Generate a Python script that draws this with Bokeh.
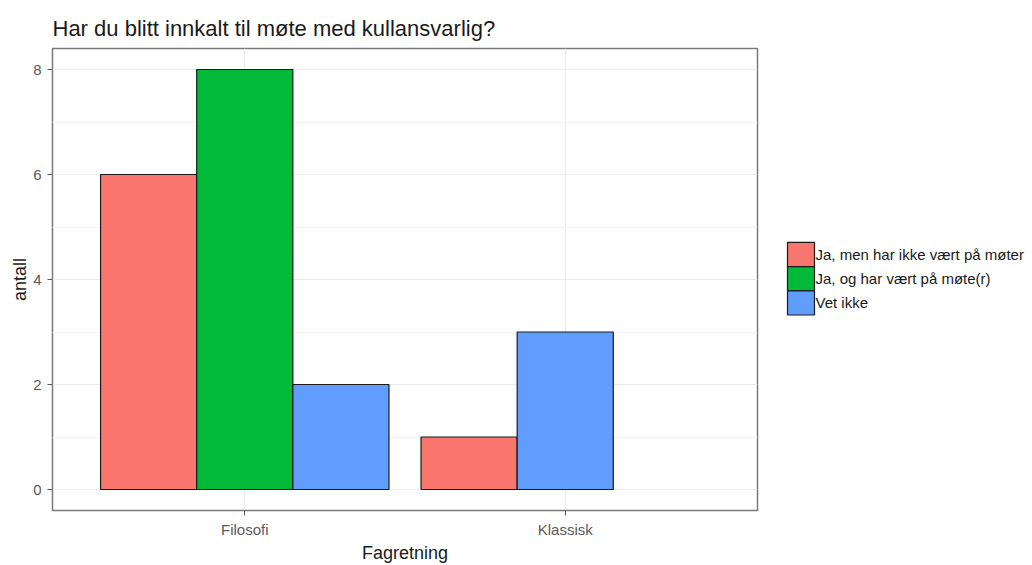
from bokeh.plotting import figure
from bokeh.layouts import row
from bokeh.models import ColumnDataSource, Range1d, FixedTicker
from bokeh.core.properties import value
from bokeh.embed import file_html
from bokeh.resources import INLINE

# ---- data ----
categories = ["Filosofi", "Klassisk"]
series_names = ["Ja, men har ikke vært på møter",
                "Ja, og har vært på møte(r)",
                "Vet ikke"]
ja_men_ikke = [6, 1]
ja_og_vaert = [8, None]
vet_ikke = [2, 3]
series_values = [ja_men_ikke, ja_og_vaert, vet_ikke]
colors = ["#F8766D", "#00BA38", "#619CFF"]
y_ticks = [0, 2, 4, 6, 8]
y_minor = [1, 3, 5, 7]

FONT = "Liberation Sans"
OUTLINE = "#1a1a1a"

# ggplot2-style dodge (preserve = "single")
DODGE = 0.9
n_max = max(sum(v[i] is not None for v in series_values)
            for i in range(len(categories)))
bar_w = DODGE / n_max
series_x = [[] for _ in series_values]
series_top = [[] for _ in series_values]
for ci in range(len(categories)):
    present = [si for si, v in enumerate(series_values) if v[ci] is not None]
    for gi, si in enumerate(present, start=1):
        series_x[si].append((ci + 1) + DODGE * ((gi - 0.5) / n_max - 0.5))
        series_top[si].append(series_values[si][ci])

# ---------------- main plot ----------------
p = figure(width=770, height=565, output_backend="svg", toolbar_location=None,
           x_range=Range1d(0.4, 2.6), y_range=Range1d(-0.4, 8.4),
           min_border_left=52, min_border_right=13,
           min_border_top=48, min_border_bottom=50)

p.title.text = "Har du blitt innkalt til møte med kullansvarlig?"
p.title.text_font = FONT
p.title.text_font_size = "22px"
p.title.text_font_style = "normal"
p.title.text_color = "#1a1a1a"
p.title.align = "left"
p.title.offset = 0
p.title.standoff = 15

p.background_fill_color = "white"
p.border_fill_color = "white"
p.outline_line_color = "#7a7a7a"
p.outline_line_width = 1.5

# grids
p.xgrid.ticker = FixedTicker(ticks=[1, 2])
p.ygrid.ticker = FixedTicker(ticks=y_ticks, minor_ticks=y_minor)
p.xgrid.grid_line_color = "#EBEBEB"
p.ygrid.grid_line_color = "#EBEBEB"
p.xgrid.grid_line_width = 1
p.ygrid.grid_line_width = 1
p.ygrid.minor_grid_line_color = "#F3F3F3"
p.ygrid.minor_grid_line_width = 1

# axes
p.xaxis.ticker = FixedTicker(ticks=[1, 2])
p.xaxis.major_label_overrides = {i + 1: c for i, c in enumerate(categories)}
p.yaxis.ticker = FixedTicker(ticks=y_ticks, minor_ticks=y_minor)
for ax in (p.xaxis, p.yaxis):
    ax.axis_line_color = None
    ax.major_tick_line_color = "#555555"
    ax.major_tick_out = 5
    ax.major_tick_in = 0
    ax.minor_tick_line_color = None
    ax.major_label_text_font = FONT
    ax.major_label_text_font_size = "15px"
    ax.major_label_text_color = "#5a5a5a"
    ax.axis_label_text_font = FONT
    ax.axis_label_text_font_size = "18px"
    ax.axis_label_text_font_style = "normal"
    ax.axis_label_text_color = "#1a1a1a"
p.xaxis.major_label_standoff = 5
p.yaxis.major_label_standoff = 6

p.yaxis.axis_label = "antall"
p.yaxis.axis_label_standoff = 0
p.xaxis.axis_label = "Fagretning"
p.xaxis.axis_label_standoff = 2

# bars
for si, name in enumerate(series_names):
    src = ColumnDataSource(dict(x=series_x[si], top=series_top[si]))
    p.vbar(x="x", top="top", bottom=0, width=bar_w, source=src,
           fill_color=colors[si], line_color=OUTLINE, line_width=1.2)

# ---------------- legend panel (pixel coordinates, y down) ----------------
LW, LH = 262, 565
leg = figure(width=LW, height=LH, output_backend="svg", toolbar_location=None,
             x_range=Range1d(0, LW), y_range=Range1d(LH, 0),
             x_axis_type=None, y_axis_type=None,
             min_border=0, outline_line_color=None)
leg.grid.visible = False
leg.background_fill_color = "white"
leg.border_fill_color = "white"

key_left, key_w = 17, 27
key_h = 29.6
n = len(series_names)
key_top0 = (48 + 515) / 2 - n * key_h / 2     # centred on the panel, like ggplot
tops = [key_top0 + i * key_h for i in range(n)]
leg_src = ColumnDataSource(dict(
    left=[key_left] * n, right=[key_left + key_w] * n,
    top=tops, bottom=[t + key_h for t in tops],
    ymid=[t + key_h / 2 for t in tops],
    tx=[key_left + key_w + 1] * n,
    color=colors, label=series_names))
leg.quad(left="left", right="right", top="top", bottom="bottom",
         fill_color="color", line_color=OUTLINE, line_width=1.2, source=leg_src)
leg.text(x="tx", y="ymid", text="label", source=leg_src,
         text_font=value(FONT), text_font_size="15px", text_color="#1a1a1a",
         text_align="left", text_baseline="middle")

layout = row(p, leg, spacing=0)
open("out.html", "w").write(file_html(layout, INLINE))
